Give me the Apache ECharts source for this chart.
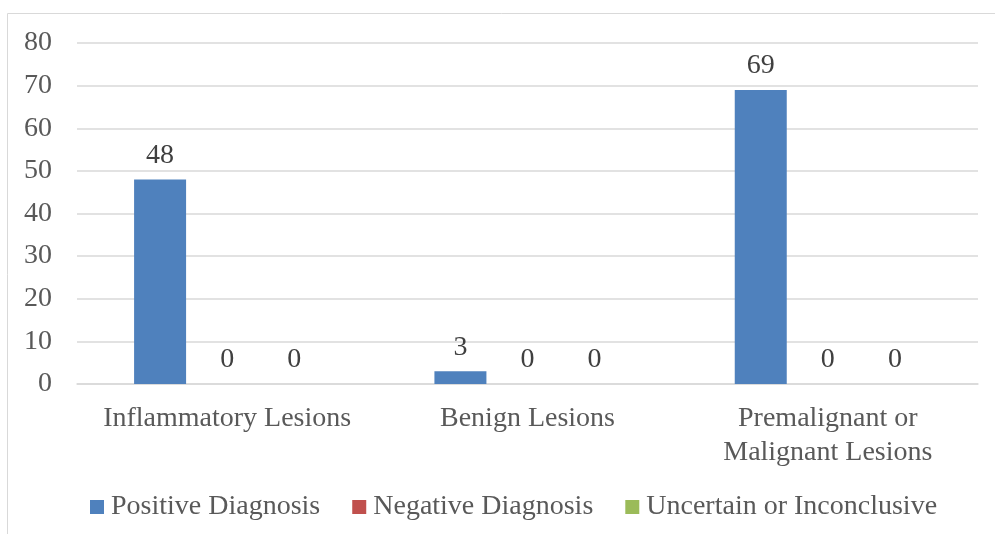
<!DOCTYPE html>
<html>
<head>
<meta charset="utf-8">
<script src="https://cdn.jsdelivr.net/npm/echarts@6/dist/echarts.min.js"></script>
<style>
  html, body { margin: 0; padding: 0; background: #fff; }
  #main { width: 995px; height: 534px; }
</style>
</head>
<body>
<div id="main"></div>
<script>
// categories and series
var categories = ['Inflammatory Lesions', 'Benign Lesions', 'Premalignant or\nMalignant Lesions'];
var positive = [48, 3, 69];
var negative = [0, 0, 0];
var uncertain = [0, 0, 0];
var seriesNames = ['Positive Diagnosis', 'Negative Diagnosis', 'Uncertain or Inconclusive'];
var colors = ['#4F81BD', '#C0504D', '#9BBB59'];

var font = "'Liberation Serif', 'Times New Roman', serif";
var fs = 28;

var myChart = echarts.init(document.getElementById('main'));

function mkSeries(name, data, color) {
  return {
    name: name,
    type: 'bar',
    data: data,
    barWidth: 52,
    barGap: '29%',
    itemStyle: { color: color },
    label: {
      show: true,
      position: 'top',
      distance: 10,
      color: '#404040',
      fontFamily: font,
      fontSize: fs
    }
  };
}

myChart.setOption({
  animation: false,
  color: colors,
  graphic: [{
    type: 'rect',
    shape: { x: 7.5, y: 13.5, width: 1100, height: 700 },
    style: { fill: 'none', stroke: '#d9d9d9', lineWidth: 1 },
    silent: true
  }],
  grid: { left: 77, right: 17, top: 43, bottom: 150, containLabel: false },
  legend: {
    bottom: 8,
    left: 85,
    itemWidth: 14,
    itemHeight: 14,
    itemGap: 32,
    icon: 'rect',
    textStyle: { color: '#595959', fontFamily: font, fontSize: fs, padding: [0, 0, 0, 2] },
    data: seriesNames
  },
  xAxis: {
    type: 'category',
    data: categories,
    axisLine: { lineStyle: { color: '#d9d9d9', width: 1.5 } },
    axisTick: { show: false },
    axisLabel: {
      interval: 0,
      margin: 18,
      color: '#595959',
      fontFamily: font,
      fontSize: fs,
      lineHeight: 34
    }
  },
  yAxis: {
    type: 'value',
    min: 0,
    max: 80,
    interval: 10,
    axisLine: { show: false },
    axisTick: { show: false },
    splitLine: { lineStyle: { color: '#d9d9d9', width: 1.5 } },
    axisLabel: {
      margin: 25,
      color: '#595959',
      fontFamily: font,
      fontSize: fs
    }
  },
  series: [
    mkSeries(seriesNames[0], positive, colors[0]),
    mkSeries(seriesNames[1], negative, colors[1]),
    mkSeries(seriesNames[2], uncertain, colors[2])
  ]
});
</script>
</body>
</html>
